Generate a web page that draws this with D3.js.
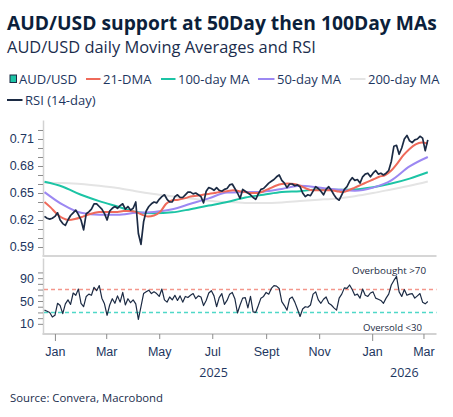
<!DOCTYPE html>
<html>
<head>
<meta charset="utf-8">
<script src="https://cdn.jsdelivr.net/npm/d3@7"></script>
<style>
  body { margin: 0; background: #fff; }
  svg { display: block; font-family: "Open Sans", "Noto Sans", sans-serif; }
</style>
</head>
<body>
<div id="chart"></div>
<script>
// --- data ---
const startDate = new Date(2024, 11, 20);
const priceStep = 3;   // days between samples of the spot / RSI series
const dmaStep = 7;     // days between samples of the 21-DMA
const maStep = 21;     // days between samples of the 50/100/200 MAs

const audusd = [
  0.624, 0.622, 0.621, 0.622, 0.624, 0.628, 0.620, 0.616, 0.614, 0.620,
  0.625, 0.628, 0.631, 0.626, 0.620, 0.609, 0.627, 0.629, 0.632, 0.638,
  0.638, 0.635, 0.632, 0.627, 0.620, 0.630, 0.633, 0.635, 0.633, 0.636,
  0.638, 0.632, 0.635, 0.631, 0.633, 0.640, 0.605, 0.593, 0.618, 0.630,
  0.635, 0.638, 0.640, 0.639, 0.643, 0.646, 0.648, 0.643, 0.640, 0.640,
  0.646, 0.648, 0.645, 0.645, 0.648, 0.651, 0.651, 0.649, 0.650, 0.648,
  0.646, 0.639, 0.652, 0.656, 0.655, 0.653, 0.656, 0.653, 0.652, 0.654,
  0.655, 0.659, 0.660, 0.655, 0.650, 0.644, 0.654, 0.652, 0.650, 0.648,
  0.645, 0.643, 0.649, 0.654, 0.655, 0.658, 0.661, 0.663, 0.665, 0.668,
  0.670, 0.664, 0.661, 0.656, 0.660, 0.660, 0.658, 0.659, 0.657, 0.650,
  0.646, 0.648, 0.647, 0.652, 0.657, 0.655, 0.652, 0.648, 0.654, 0.657,
  0.653, 0.648, 0.644, 0.642, 0.648, 0.654, 0.657, 0.663, 0.667, 0.664,
  0.665, 0.661, 0.668, 0.671, 0.672, 0.668, 0.672, 0.675, 0.671, 0.672,
  0.670, 0.672, 0.675, 0.685, 0.702, 0.703, 0.693, 0.700, 0.710, 0.714,
  0.708, 0.706, 0.709, 0.710, 0.713, 0.711, 0.697, 0.709
];

const rsi14 = [
  34, 32, 30, 22, 25, 46, 42, 28, 45, 52,
  44, 64, 60, 71, 46, 40, 58, 62, 60, 74,
  68, 77, 55, 45, 25, 43, 54, 46, 59, 48,
  65, 43, 54, 47, 52, 45, 18, 40, 63, 66,
  69, 63, 66, 63, 58, 71, 52, 48, 57, 52,
  60, 51, 59, 48, 58, 56, 60, 63, 54, 59,
  57, 42, 51, 64, 68, 59, 40, 56, 63, 44,
  51, 62, 65, 54, 29, 43, 55, 56, 38, 58,
  31, 30, 42, 55, 58, 65, 62, 72, 77, 76,
  72, 49, 42, 34, 54, 57, 48, 36, 23, 36,
  40, 39, 43, 62, 66, 52, 46, 53, 57, 46,
  43, 38, 34, 55, 62, 73, 72, 78, 70, 60,
  62, 55, 71, 60, 58, 64, 66, 55, 53, 51,
  46, 55, 62, 78, 86, 93, 66, 58, 70, 60,
  62, 63, 55, 59, 63, 48, 45, 49
];

const dma21 = [
  0.640, 0.634, 0.627, 0.622, 0.620, 0.621, 0.623, 0.6255, 0.6275, 0.629,
  0.629, 0.629, 0.629, 0.630, 0.630, 0.629, 0.626, 0.624, 0.625, 0.629,
  0.638, 0.642, 0.6425, 0.644, 0.646, 0.647, 0.648, 0.649, 0.650, 0.6515,
  0.652, 0.653, 0.652, 0.651, 0.650, 0.650, 0.652, 0.655, 0.658, 0.660,
  0.6605, 0.660, 0.658, 0.655, 0.653, 0.653, 0.653, 0.653, 0.652, 0.651,
  0.653, 0.656, 0.659, 0.662, 0.665, 0.668, 0.670, 0.675, 0.683, 0.692,
  0.699, 0.704, 0.706, 0.705
];

const ma50 = [
  0.651, 0.637, 0.628, 0.6258, 0.6258, 0.628, 0.629, 0.632, 0.638, 0.644,
  0.6505, 0.651, 0.6515, 0.6545, 0.658, 0.656, 0.654, 0.6525, 0.656, 0.664,
  0.6795, 0.690
];

const ma100 = [
  0.6625, 0.657, 0.648, 0.641, 0.635, 0.629, 0.6275, 0.6285, 0.632, 0.636,
  0.640, 0.645, 0.648, 0.651, 0.652, 0.654, 0.6535, 0.654, 0.6565, 0.6605,
  0.666, 0.673
];

const ma200 = [
  0.6615, 0.661, 0.660, 0.658, 0.6555, 0.652, 0.649, 0.6465, 0.644, 0.6415,
  0.640, 0.639, 0.6388, 0.6395, 0.641, 0.6425, 0.644, 0.6465, 0.650, 0.654,
  0.658, 0.6628
];

const rsiLevels = [70, 30];
const rsiLevelLabels = ["Overbought >70", "Oversold <30"];
const monthLabels = ["Jan", "Mar", "May", "Jul", "Sept", "Nov", "Jan", "Mar"];
const yearLabels = ["2025", "2026"];
const seriesNames = ["AUD/USD", "21-DMA", "100-day MA", "50-day MA", "200-day MA", "RSI (14-day)"];

// --- colours ---
const navy = "#1c2b44";
const textCol = "#1d3660";
const colors = {
  spot: navy, dma21: "#ef6a5a", ma100: "#1cc4a5", ma50: "#9c88f2",
  ma200: "#e4e4e4", rsi: navy, over: "#f4968b", under: "#4fd8c8"
};

const W = 453, H = 417;
const svg = d3.select("#chart").append("svg").attr("width", W).attr("height", H);

function fit(t, w) {
  const len = t.node().getComputedTextLength();
  const fs = parseFloat(t.attr("font-size"));
  t.attr("font-size", (fs * w / len).toFixed(2));
}

// --- titles ---
const title = svg.append("text").attr("x", 7).attr("y", 30)
  .attr("font-size", 19).attr("font-weight", 700).attr("fill", "#0c1f3b")
  .text("AUD/USD support at 50Day then 100Day MAs");
fit(title, 430);
const sub = svg.append("text").attr("x", 7).attr("y", 53)
  .attr("font-size", 16).attr("fill", "#1a2d4d")
  .text("AUD/USD daily Moving Averages and RSI");
fit(sub, 309);

// --- legend ---
const legendPos = [
  { x: 10, y: 79, tx: 19 },
  { x: 86, y: 79, tx: 103 },
  { x: 161, y: 79, tx: 178 },
  { x: 258, y: 79, tx: 277 },
  { x: 350, y: 79, tx: 368 },
  { x: 7, y: 100, tx: 25 }
];
const legendCols = [colors.ma100, colors.dma21, colors.ma100, colors.ma50, colors.ma200, colors.rsi];
const legend = svg.append("g").attr("class", "legend");
seriesNames.forEach((name, i) => {
  const p = legendPos[i];
  if (i === 0) {
    legend.append("rect").attr("x", p.x).attr("y", p.y - 4).attr("width", 6.5).attr("height", 7.5)
      .attr("fill", legendCols[i]).attr("stroke", navy).attr("stroke-width", 1);
  } else {
    legend.append("line").attr("x1", p.x).attr("x2", p.tx - 2.5).attr("y1", p.y).attr("y2", p.y)
      .attr("stroke", legendCols[i]).attr("stroke-width", 2);
  }
  legend.append("text").attr("x", p.tx).attr("y", p.y + 4.6)
    .attr("font-size", 13).attr("fill", textCol).text(name);
});

// --- scales ---
const x = d3.scaleTime()
  .domain([new Date(2024, 11, 20), new Date(2026, 2, 16)])
  .range([44.5, 436.5]);
const yMain = d3.scaleLinear().domain([0.58, 0.7311]).range([256, 120]);
const yRsi = d3.scaleLinear().domain([-7.75, 125.25]).range([334, 258]);

const dateAt = step => (d, i) => x(d3.timeDay.offset(startDate, i * step));

// --- main panel axes ---
const mainTicks = d3.range(59, 73).map(d => d / 100);
const gY = svg.append("g").attr("transform", "translate(43,0)")
  .call(d3.axisLeft(yMain).tickValues(mainTicks).tickSize(5).tickSizeOuter(0).tickPadding(4)
    .tickFormat(d => (Math.round(d * 100) - 59) % 3 === 0 ? d3.format(".2f")(d) : ""));
gY.select(".domain").attr("stroke", "#d2d2d2").attr("stroke-width", 1.5);
gY.selectAll(".tick line").attr("stroke", "#8c8c8c");
gY.selectAll(".tick text").attr("font-size", 12.5).attr("fill", textCol).attr("font-family", null);

const gMainBottom = svg.append("g").attr("transform", "translate(0,256)")
  .call(d3.axisBottom(x).tickValues([]).tickSizeOuter(0));
gMainBottom.select(".domain").attr("stroke", "#d6d6d6").attr("stroke-width", 2)
  .attr("d", `M42.5,0H436.5`);

// --- moving averages + spot ---
const line = (step, y) => d3.line().x(dateAt(step)).y(d => y(d));
const plot = svg.append("g");
plot.append("path").datum(ma200).attr("fill", "none").attr("stroke", colors.ma200).attr("stroke-width", 2)
  .attr("d", line(maStep, yMain).curve(d3.curveMonotoneX));
plot.append("path").datum(ma100).attr("fill", "none").attr("stroke", colors.ma100).attr("stroke-width", 2)
  .attr("d", line(maStep, yMain).curve(d3.curveMonotoneX));
plot.append("path").datum(ma50).attr("fill", "none").attr("stroke", colors.ma50).attr("stroke-width", 2)
  .attr("d", line(maStep, yMain).curve(d3.curveMonotoneX));
plot.append("path").datum(dma21).attr("fill", "none").attr("stroke", colors.dma21).attr("stroke-width", 2)
  .attr("d", line(dmaStep, yMain).curve(d3.curveMonotoneX));
plot.append("path").datum(audusd).attr("fill", "none").attr("stroke", colors.spot).attr("stroke-width", 1.7)
  .attr("stroke-linejoin", "round").attr("d", line(priceStep, yMain));

// --- RSI panel ---
const gR = svg.append("g").attr("transform", "translate(43,0)")
  .call(d3.axisLeft(yRsi).tickValues(d3.range(10, 101, 10)).tickSize(5).tickSizeOuter(0).tickPadding(4)
    .tickFormat(d => d % 40 === 10 ? d : ""));
gR.select(".domain").attr("stroke", "#d2d2d2").attr("stroke-width", 1.5);
gR.selectAll(".tick line").attr("stroke", "#8c8c8c");
gR.selectAll(".tick text").attr("font-size", 12.5).attr("fill", textCol).attr("font-family", null);

const levelCols = [colors.over, colors.under];
rsiLevels.forEach((lv, i) => {
  svg.append("line").attr("x1", 44).attr("x2", 436.5).attr("y1", yRsi(lv)).attr("y2", yRsi(lv))
    .attr("stroke", levelCols[i]).attr("stroke-width", 1.6).attr("stroke-dasharray", "4,3");
});
svg.append("path").datum(rsi14).attr("fill", "none").attr("stroke", colors.rsi).attr("stroke-width", 1.2)
  .attr("stroke-linejoin", "round").attr("d", line(priceStep, yRsi));

const ob = svg.append("text").attr("x", 426).attr("y", 273.5).attr("text-anchor", "end")
  .attr("font-size", 10.5).attr("fill", navy).text(rsiLevelLabels[0]);
fit(ob, 74);
const os = svg.append("text").attr("x", 422).attr("y", 330.5).attr("text-anchor", "end")
  .attr("font-size", 10.5).attr("fill", navy).text(rsiLevelLabels[1]);
fit(os, 59);

// --- x axis ---
const monthTicks = d3.timeMonth.every(2).range(new Date(2025, 0, 1), new Date(2026, 3, 1));
const gX = svg.append("g").attr("transform", "translate(0,334)")
  .call(d3.axisBottom(x).tickValues(monthTicks).tickSize(5).tickSizeOuter(0).tickPadding(8)
    .tickFormat((d, i) => monthLabels[i]));
gX.select(".domain").attr("stroke", "#d2d2d2").attr("stroke-width", 2).attr("d", "M42.5,0H436.5");
gX.selectAll(".tick line").attr("stroke", "#8c8c8c")
  .attr("y2", d => d.getMonth() === 0 ? 7 : 5);
gX.selectAll(".tick text").attr("font-size", 12.5).attr("fill", textCol).attr("font-family", null);

const [d0, d1] = x.domain();
yearLabels.forEach(yl => {
  const a = new Date(+yl, 0, 1), b = new Date(+yl + 1, 0, 1);
  const cx = (x(a < d0 ? d0 : a) + x(b > d1 ? d1 : b)) / 2;
  svg.append("text").attr("x", cx).attr("y", 377).attr("text-anchor", "middle")
    .attr("font-size", 12.5).attr("fill", textCol).text(yl);
});
// first year starts at Jan 1, not the domain start
svg.selectAll("text").filter(function () { return this.textContent === yearLabels[0]; })
  .attr("x", (x(new Date(2025, 0, 1)) + x(new Date(2026, 0, 1))) / 2);

// --- source ---
const src = svg.append("text").attr("x", 10).attr("y", 401.5)
  .attr("font-size", 11.5).attr("fill", "#1a2d4d").text("Source: Convera, Macrobond");
fit(src, 153);
</script>
</body>
</html>
